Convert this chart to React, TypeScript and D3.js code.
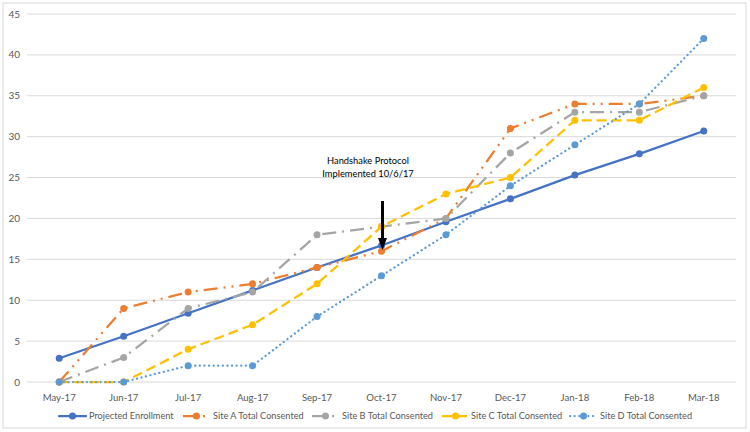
import React from "react";
import * as d3 from "d3";

const categories = ["May-17", "Jun-17", "Jul-17", "Aug-17", "Sep-17", "Oct-17", "Nov-17", "Dec-17", "Jan-18", "Feb-18", "Mar-18"];
const projected = [2.9, 5.6, 8.4, 11.2, 14, 16.7, 19.6, 22.4, 25.3, 27.9, 30.7];
const siteA = [0, 9, 11, 12, 14, 16, 20, 31, 34, 34, 35];
const siteB = [0, 3, 9, 11, 18, 19, 20, 28, 33, 33, 35];
const siteC = [0, 0, 4, 7, 12, 19, 23, 25, 32, 32, 36];
const siteD = [0, 0, 2, 2, 8, 13, 18, 24, 29, 34, 42];
const yTicks = [0, 5, 10, 15, 20, 25, 30, 35, 40, 45];
const seriesNames = ["Projected Enrollment", "Site A Total Consented", "Site B Total Consented", "Site C Total Consented", "Site D Total Consented"];

const FONT = "Lato, 'Open Sans', sans-serif";

const styles = [
  { color: "#4472C4", dash: "", cap: "round" },
  { color: "#ED7D31", dash: "14 6 2 6 2 6", cap: "butt" },
  { color: "#A5A5A5", dash: "14 6 2 6", cap: "butt" },
  { color: "#FFC000", dash: "10 5", cap: "butt" },
  { color: "#5B9BD5", dash: "0.1 4.5", cap: "round" },
];

export default function App() {
  const x = d3.scaleBand<string>().domain(categories).range([27, 736]);
  const y = d3.scaleLinear().domain([0, 45]).range([382, 14]);
  const cx = (c: string) => (x(c) as number) + x.bandwidth() / 2;
  const data = [projected, siteA, siteB, siteC, siteD];
  const line = d3
    .line<number>()
    .x((_, i) => cx(categories[i]))
    .y((d) => y(d));

  const legendX = [59, 183, 312, 442, 570];
  const legendText = [89, 213, 342, 471, 600];
  const ly = 416;

  const arrowX = cx("Oct-17") + 1;

  return (
    <svg width={750} height={432} style={{ position: "absolute", left: 0, top: 0, background: "#fff" }}>
      <rect x={3} y={3} width={743} height={425} fill="#fff" stroke="#d9d9d9" strokeWidth={1} />
      {yTicks.map((t) => (
        <g key={t}>
          <line x1={27} x2={736} y1={y(t)} y2={y(t)} stroke="#d9d9d9" strokeWidth={1} />
          <text x={20} y={y(t)} dy="0.35em" textAnchor="end" fontFamily={FONT} fontSize={10} fill="#595959">
            {t}
          </text>
        </g>
      ))}
      {categories.map((c) => (
        <text key={c} x={cx(c)} y={398} dy="0.35em" textAnchor="middle" fontFamily={FONT} fontSize={9.6} fill="#595959">
          {c}
        </text>
      ))}
      {data.map((s, k) => (
        <g key={k}>
          <path
            d={line(s) as string}
            fill="none"
            stroke={styles[k].color}
            strokeWidth={2.25}
            strokeDasharray={styles[k].dash}
            strokeLinecap={styles[k].cap as any}
            strokeLinejoin="round"
          />
          {s.map((v, i) => (
            <circle key={i} cx={cx(categories[i])} cy={y(v)} r={3.5} fill={styles[k].color} />
          ))}
        </g>
      ))}
      <text x={368} y={161} dy="0.35em" textAnchor="middle" fontFamily={FONT} fontSize={9.3} fill="#000">
        Handshake Protocol
      </text>
      <text x={368} y={173.5} dy="0.35em" textAnchor="middle" fontFamily={FONT} fontSize={9.3} fill="#000">
        Implemented 10/6/17
      </text>
      <line x1={arrowX} x2={arrowX} y1={201} y2={240} stroke="#000" strokeWidth={3} />
      <path d={`M${arrowX - 4.5},238 L${arrowX + 4.5},238 L${arrowX},250 Z`} fill="#000" />
      {seriesNames.map((n, k) => (
        <g key={n}>
          <line
            x1={legendX[k]}
            x2={legendX[k] + 27}
            y1={ly}
            y2={ly}
            stroke={styles[k].color}
            strokeWidth={2.25}
            strokeDasharray={styles[k].dash}
            strokeLinecap={styles[k].cap as any}
          />
          <circle cx={legendX[k] + 13.5} cy={ly} r={3.5} fill={styles[k].color} />
          <text x={legendText[k]} y={ly} dy="0.35em" fontFamily={FONT} fontSize={9.2} fill="#595959">
            {n}
          </text>
        </g>
      ))}
    </svg>
  );
}
